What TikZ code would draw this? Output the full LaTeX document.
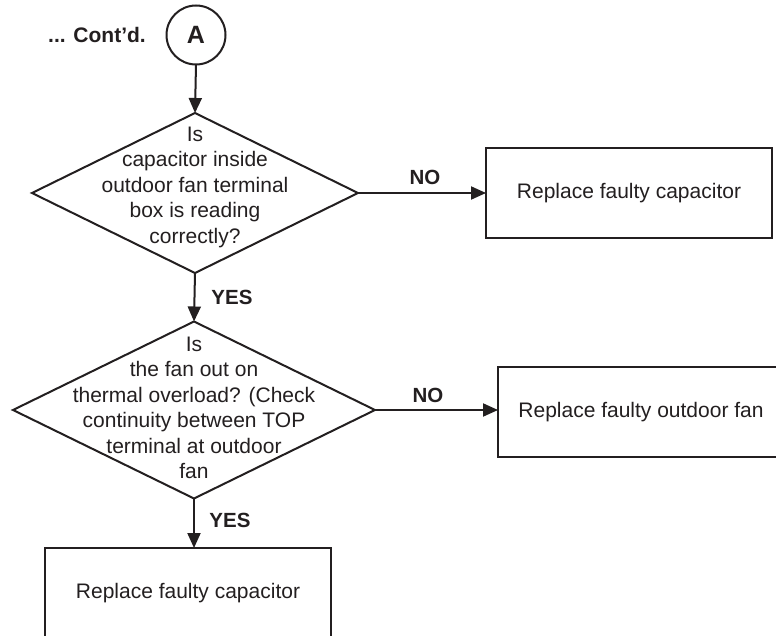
\documentclass[tikz,border=0pt]{standalone}
\usepackage{fontspec}
\setmainfont{Liberation Sans}
\usetikzlibrary{shapes.geometric,arrows.meta}
\definecolor{ink}{HTML}{231F20}
\begin{document}
\begin{tikzpicture}[x=1pt,y=-1pt,
  line/.style={line width=2pt, draw=ink},
  arr/.style={line width=2pt, draw=ink, -{Triangle[length=15pt,width=13pt]}},
  dia/.style={diamond, line, inner sep=0pt, outer sep=0pt},
  txt/.style={font=\fontsize{21}{25.5}\selectfont, text=ink, align=center, inner sep=0pt},
  lbl/.style={font=\fontsize{20.5}{24}\selectfont\bfseries, text=ink, inner sep=0pt},
  stepbox/.style={rectangle, line, minimum width=286pt, minimum height=90pt, inner sep=0pt, outer sep=0pt,
    font=\fontsize{21}{25.5}\selectfont, text=ink}]
\useasboundingbox (0,0) rectangle (776,636);
\fill[white] (0,0) rectangle (776,636);
\clip (0,0) rectangle (776,636);

\node[lbl, font=\fontsize{21}{25}\selectfont\bfseries] (cont) at (97,35) {... Cont’d.};
\node[circle, line, minimum size=59pt, inner sep=0pt, outer sep=0pt,
      font=\fontsize{25}{27}\selectfont\bfseries, text=ink] (A) at (196,35) {A};

\node[dia, minimum width=326pt, minimum height=160pt] (d1) at (195,193) {};
\node[txt] (t1) at (195,187) {Is\\capacitor inside\\outdoor fan terminal\\box is reading\\correctly?};

\node[stepbox] (b1) at (629,193) {Replace faulty capacitor};

\node[dia, minimum width=362pt, minimum height=177pt] (d2) at (194,410) {};
\node[txt] (t2) at (194,408) {Is\\the fan out on\\thermal overload? (Check\\continuity between TOP\\terminal at outdoor\\fan};

\node[stepbox] (b2) at (641,412) {Replace faulty outdoor fan};
\node[stepbox] (b3) at (188,593) {Replace faulty capacitor};

\draw[arr] (A.south) -- (d1.north);
\draw[arr] (d1.east) -- (b1.west);
\node[lbl] (no1) at (425,177) {NO};
\draw[arr] (d1.south) -- (d2.north);
\node[lbl] (yes1) at (232,297) {YES};
\draw[arr] (d2.east) -- (d2.east -| b2.west);
\node[lbl] (no2) at (428,395) {NO};
\draw[arr] (d2.south) -- (d2.south |- b3.north);
\node[lbl] (yes2) at (230,520) {YES};
\end{tikzpicture}
\end{document}
